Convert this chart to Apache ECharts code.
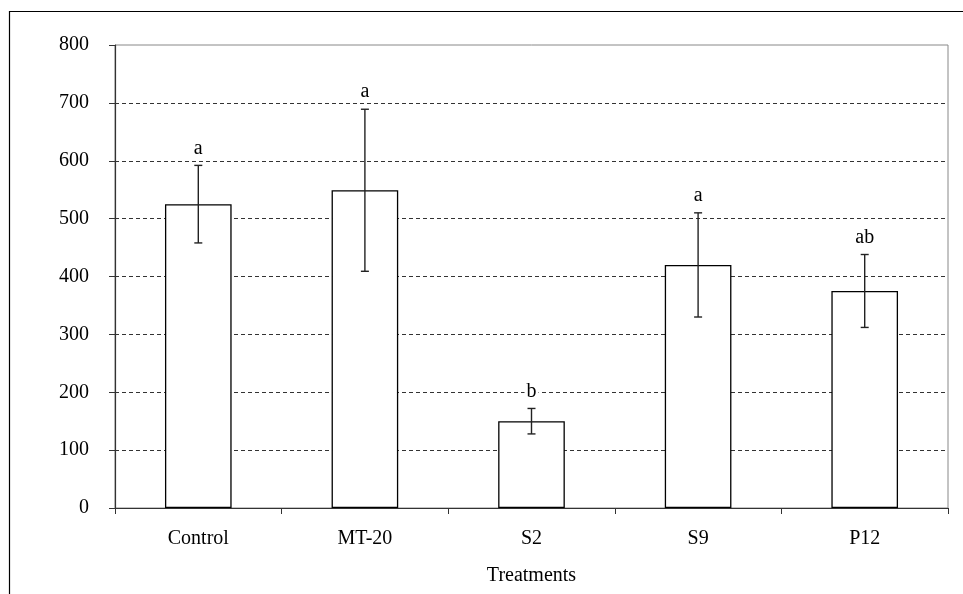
<!DOCTYPE html>
<html>
<head>
<meta charset="utf-8">
<script src="https://cdn.jsdelivr.net/npm/echarts@6/dist/echarts.min.js"></script>
<style>
  html, body { margin: 0; padding: 0; background: #fff; }
  #chart { width: 963px; height: 594px; }
</style>
</head>
<body>
<div id="chart"></div>
<script>
const categories = ['Control', 'MT-20', 'S2', 'S9', 'P12'];
const means = [525, 549, 150, 420, 375];
const errors = [67, 140, 22, 90, 63];
const letters = ['a', 'a', 'b', 'a', 'ab'];
const yTicks = { min: 0, max: 800, interval: 100 };
const xAxisTitle = 'Treatments';

const FONT = "'Liberation Serif', 'Times New Roman', serif";
const chart = echarts.init(document.getElementById('chart'), null, { renderer: 'canvas' });

const gridColors = [];
for (let v = yTicks.min; v <= yTicks.max; v += yTicks.interval) {
  gridColors.push(v === yTicks.max ? 'rgba(0,0,0,0)' : '#333');
}

const errData = categories.map((c, i) => [i, means[i], errors[i]]);

chart.setOption({
  animation: false,
  backgroundColor: '#fff',
  graphic: [{
    type: 'polyline',
    shape: { points: [[9.5, 594], [9.5, 11.5], [963, 11.5]] },
    style: { stroke: '#000', lineWidth: 1.2, fill: null },
    silent: true
  }],
  grid: {
    left: 115, right: 15, top: 45, bottom: 86,
    show: true, borderColor: '#888', borderWidth: 1, backgroundColor: 'transparent'
  },
  xAxis: {
    type: 'category',
    data: categories,
    boundaryGap: true,
    name: xAxisTitle,
    nameLocation: 'middle',
    nameGap: 58,
    nameTextStyle: { fontFamily: FONT, fontSize: 20, color: '#000' },
    axisLine: { lineStyle: { color: '#333', width: 1.2 } },
    axisTick: { show: true, length: 6, inside: false, lineStyle: { color: '#333' } },
    axisLabel: { fontFamily: FONT, fontSize: 20, color: '#000', margin: 21 },
    splitLine: { show: false }
  },
  yAxis: {
    type: 'value',
    min: yTicks.min, max: yTicks.max, interval: yTicks.interval,
    axisLine: { show: true, lineStyle: { color: '#333', width: 1.2 } },
    axisTick: { show: true, length: 6, inside: false, lineStyle: { color: '#333' } },
    axisLabel: { fontFamily: FONT, fontSize: 20, color: '#000', margin: 26 },
    splitLine: { show: true, lineStyle: { color: gridColors, type: [4, 3], width: 1 } }
  },
  series: [
    {
      type: 'bar',
      data: means,
      barWidth: '40%',
      itemStyle: { color: '#fff', borderColor: '#000', borderWidth: 1.3 },
      z: 2
    },
    {
      type: 'custom',
      data: errData,
      z: 3,
      renderItem: function (params, api) {
        const idx = api.value(0);
        const m = api.value(1);
        const e = api.value(2);
        const top = api.coord([idx, m + e]);
        const bot = api.coord([idx, m - e]);
        const cap = 4;
        const style = { stroke: '#222', lineWidth: 1.4 };
        return {
          type: 'group',
          children: [
            { type: 'line', shape: { x1: top[0], y1: top[1], x2: bot[0], y2: bot[1] }, style: style },
            { type: 'line', shape: { x1: top[0] - cap, y1: top[1], x2: top[0] + cap, y2: top[1] }, style: style },
            { type: 'line', shape: { x1: bot[0] - cap, y1: bot[1], x2: bot[0] + cap, y2: bot[1] }, style: style },
            {
              type: 'text',
              x: top[0], y: top[1] - 17,
              style: {
                text: letters[params.dataIndex],
                fontFamily: FONT, fontSize: 20, fill: '#000',
                align: 'center', verticalAlign: 'middle',
                backgroundColor: '#fff', padding: [0, 2]
              }
            }
          ]
        };
      }
    }
  ]
});
</script>
</body>
</html>
